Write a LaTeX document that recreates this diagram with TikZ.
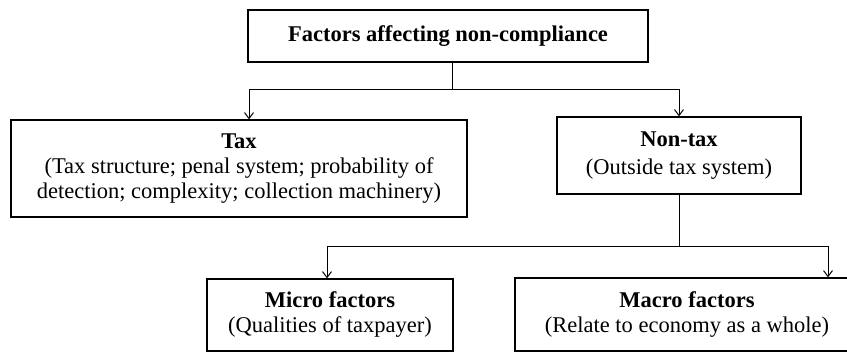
\documentclass[tikz,border=0pt]{standalone}
\usepackage{fontspec}
\setmainfont{Liberation Serif}
\usetikzlibrary{arrows.meta}
\begin{document}
\begin{tikzpicture}[x=1pt, y=1pt, >={Straight Barb[length=6pt,width=9pt]},
    factorbox/.style={draw, line width=1.2pt, align=center, inner sep=0pt,
      font=\fontsize{22.5}{25}\selectfont},
    link/.style={line width=1pt}]
    \useasboundingbox (0,0) rectangle (847,352);

    % Main heading
    \node[factorbox, minimum width=400, minimum height=52] (main) at (448,316)
      {\textbf{Factors affecting non-compliance}};

    % First level
    \node[factorbox, minimum width=456, minimum height=97] (tax) at (239,183.5)
      {\textbf{Tax}\\(Tax structure; penal system; probability of\\detection; complexity; collection machinery)};
    \node[factorbox, minimum width=244, minimum height=77] (nontax) at (679,196.5)
      {\textbf{Non-tax}\\[3pt](Outside tax system)};

    % Second level
    \node[factorbox, minimum width=246, minimum height=72] (micro) at (330,37)
      {\textbf{Micro factors}\\(Qualities of taxpayer)};
    \node[factorbox, minimum width=344, minimum height=73] (macro) at (687,37.5)
      {\textbf{Macro factors}\\(Relate to economy as a whole)};

    % Connectors
    \coordinate (bar1) at (452,262);
    \draw[link] (main.south -| bar1) -- (bar1);
    \draw[link,->] (bar1) -| ([xshift=10pt]tax.north);
    \draw[link,->] (bar1) -| (nontax.north);

    \coordinate (bar2) at (679,105);
    \draw[link] (nontax.south) -- (bar2);
    \draw[link,->] (bar2) -| ([xshift=-3pt]micro.north);
    \draw[link,->] (bar2) -| ([xshift=141pt]macro.north);
\end{tikzpicture}
\end{document}
